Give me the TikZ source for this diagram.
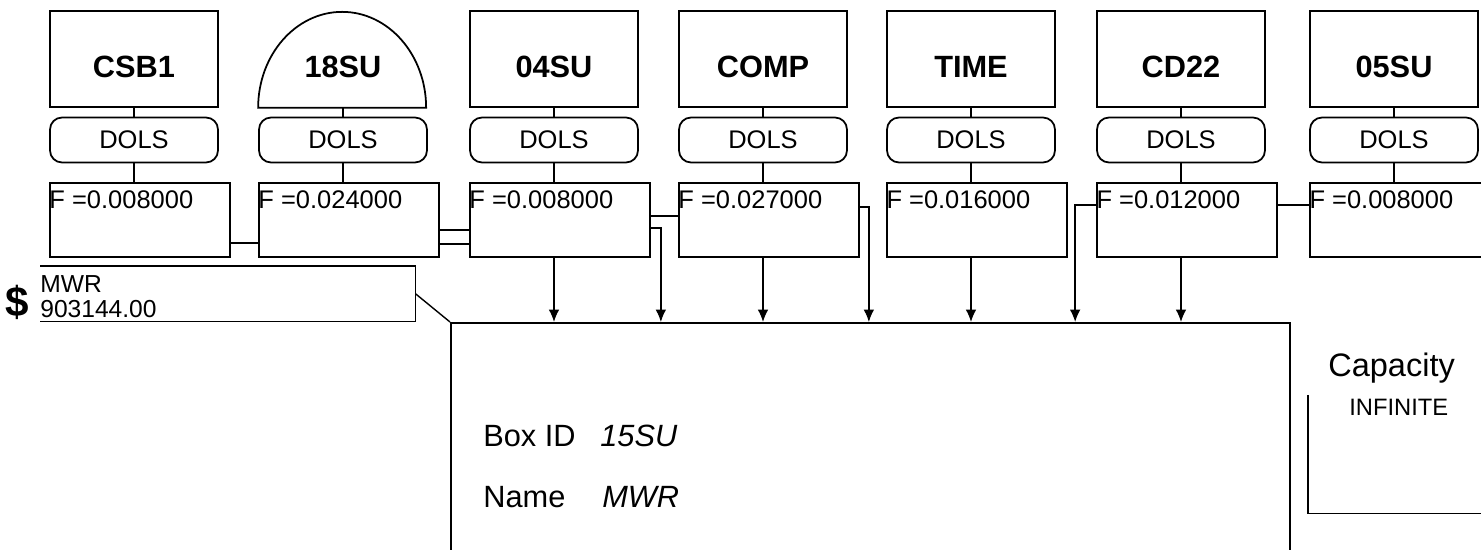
\documentclass[tikz,border=0pt]{standalone}
\usepackage{fontspec}
\setmainfont{Liberation Sans}
\usetikzlibrary{positioning}
\usetikzlibrary{calc}
\usetikzlibrary{arrows.meta}
\newcommand{\fsz}[1]{\fontsize{#1}{#1}\selectfont}
\tikzset{
  ttl/.style={draw, line width=1pt, minimum width=3.36cm, minimum height=1.92cm,
    text height=21pt, text depth=0pt, font=\fsz{17.5}\bfseries},
  dols/.style={draw, line width=1pt, rounded corners=0.24cm, minimum width=3.36cm,
    minimum height=0.9cm, font=\fsz{14.5}},
  fbox/.style={draw, line width=1pt, minimum width=3.6cm, minimum height=1.48cm},
  fval/.style={anchor=base west, inner sep=0pt, font=\fsz{14.5}},
  link/.style={line width=0.8pt},
  lbl/.style={anchor=base west, inner sep=0pt, font=\fsz{17.5}},
}

\begin{document}
\begin{tikzpicture}[x=0.02cm, y=-0.02cm, >={Latex[length=7pt,width=6pt]}]
    \useasboundingbox (0,0) rectangle (1481,550);
    \clip (0,0) rectangle (1481,550);

    % top row
    \node[ttl] (t1) at (134,59) {CSB1};
    \node[ttl, draw=none] (t2) at (343,59) {18SU};
    \draw[line width=1pt] (t2.south west) arc[start angle=180, end angle=360, x radius=84, y radius=96] -- cycle;
    \node[ttl] (t3) at (554,59) {04SU};
    \node[ttl] (t4) at (763,59) {COMP};
    \node[ttl] (t5) at (971,59) {TIME};
    \node[ttl] (t6) at (1181,59) {CD22};
    \node[ttl] (t7) at (1394,59) {05SU};

    \node[dols] (d1) at (134,140) {DOLS};
    \node[dols] (d2) at (343,140) {DOLS};
    \node[dols] (d3) at (554,140) {DOLS};
    \node[dols] (d4) at (763,140) {DOLS};
    \node[dols] (d5) at (971,140) {DOLS};
    \node[dols] (d6) at (1181,140) {DOLS};
    \node[dols] (d7) at (1394,140) {DOLS};

    \node[fbox] (f1) at (140,220) {};
    \node[fbox] (f2) at (349,220) {};
    \node[fbox] (f3) at (560,220) {};
    \node[fbox] (f4) at (769,220) {};
    \node[fbox] (f5) at (977,220) {};
    \node[fbox] (f6) at (1187,220) {};
    \node[fbox] (f7) at (1400,220) {};

    \node[fval] (v1) at ([yshift=-0.52cm]f1.north west) {F =0.008000};
    \node[fval] (v2) at ([yshift=-0.52cm]f2.north west) {F =0.024000};
    \node[fval] (v3) at ([yshift=-0.52cm]f3.north west) {F =0.008000};
    \node[fval] (v4) at ([yshift=-0.52cm]f4.north west) {F =0.027000};
    \node[fval] (v5) at ([yshift=-0.52cm]f5.north west) {F =0.016000};
    \node[fval] (v6) at ([yshift=-0.52cm]f6.north west) {F =0.012000};
    \node[fval] (v7) at ([yshift=-0.52cm]f7.north west) {F =0.008000};

    \foreach \i in {1,...,7} {
        \draw[link] (t\i.south) -- (d\i.north);
        \draw[link] (d\i.south) -- (d\i.south |- f\i.north);
    }

    % cost box
    \node[inner sep=0pt, anchor=north west, minimum width=7.5cm, minimum height=1.1cm] (cost) at (40,266) {};
    \draw[link] (cost.north west) -- (cost.north east) -- (cost.south east) -- (cost.south west);
    \node[anchor=center, inner sep=0pt, font=\fsz{24}\bfseries] (dollar) at (17,302) {\$};
    \node[fval, font=\fsz{14}] (costname) at (40,293) {MWR};
    \node[fval, font=\fsz{14}] (costval) at (40,318) {903144.00};

    % main box
    \node[draw, line width=1pt, anchor=north west, minimum width=16.78cm, minimum height=6cm] (main) at (450,322) {};
    \node[lbl] (boxid) at (483,447) {Box ID};
    \node[lbl] (boxval) at (600,447) {\itshape 15SU};
    \node[lbl] (namelbl) at (483,507) {Name};
    \node[lbl] (nameval) at (602,507) {\itshape MWR};
    \draw[link] (cost.east) -- (main.north west);

    % links between boxes
    \draw[link] ([yshift=-0.46cm]f1.east) -- ([yshift=-0.46cm]f2.west);
    \draw[link] ([yshift=-0.2cm]f2.east) -- ([yshift=-0.2cm]f3.west);
    \draw[link] ([yshift=-0.48cm]f2.east) -- ([yshift=-0.48cm]f3.west);
    \draw[link] ([yshift=0.08cm]f3.east) -- ([yshift=0.08cm]f4.west);
    \draw[link] ([yshift=0.3cm]f6.east) -- ([yshift=0.3cm]f7.west);

    \draw[link,->] (t3 |- f3.south) -- (t3 |- main.north);
    \draw[link,->] ([yshift=-0.16cm]f3.east) -- ++(10,0) coordinate (k3) -- (k3 |- main.north);
    \draw[link,->] (t4 |- f4.south) -- (t4 |- main.north);
    \draw[link,->] ([yshift=0.26cm]f4.east) -- ++(9,0) coordinate (k4) -- (k4 |- main.north);
    \draw[link,->] (t5 |- f5.south) -- (t5 |- main.north);
    \draw[link,->] ([yshift=0.3cm]f6.west) -- ++(-21,0) coordinate (k6) -- (k6 |- main.north);
    \draw[link,->] (t6 |- f6.south) -- (t6 |- main.north);

    % capacity
    \node[lbl, font=\fsz{18.5}] (cap) at (1328,377) {Capacity};
    \node[lbl, font=\fsz{13.5}] (capval) at (1349,416) {INFINITE};
    \node[inner sep=0pt, anchor=north west, minimum width=3.8cm, minimum height=2.36cm] (capbox) at (1308,395) {};
    \draw[link] (capbox.north west) -- (capbox.south west) -- (capbox.south east);
\end{tikzpicture}
\end{document}
